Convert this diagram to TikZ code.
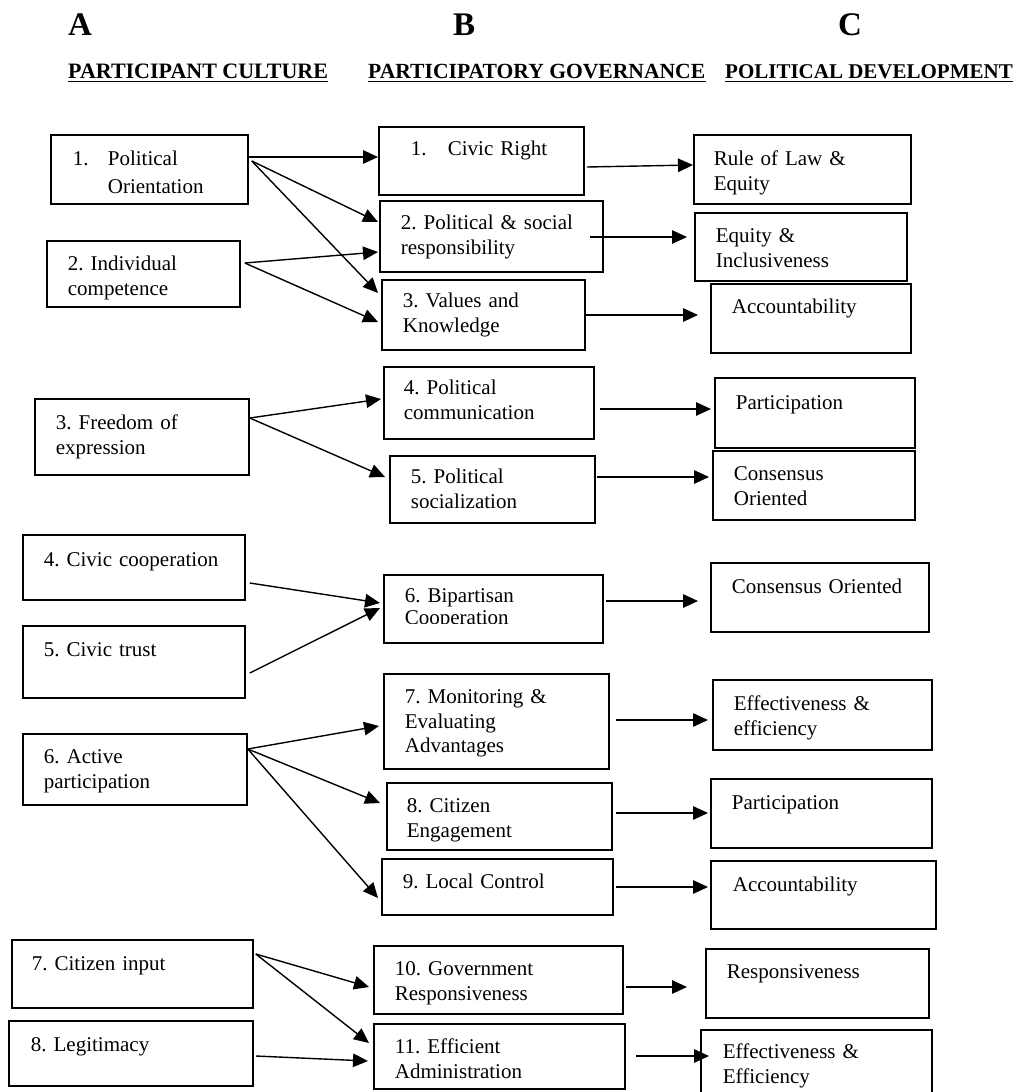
\documentclass[tikz,border=0pt]{standalone}
\usepackage{fontspec}
\setmainfont{Liberation Serif}
\usetikzlibrary{arrows.meta}
\frenchspacing

\begin{document}
\begin{tikzpicture}[x=1pt, y=-1pt,
  box/.style={draw, line width=1.8pt, anchor=north west, align=left, inner ysep=0pt,
    font=\fontsize{21}{24.5}\selectfont},
  hdr/.style={anchor=base west, inner sep=0pt, font=\bfseries\fontsize{33}{36}\selectfont},
  ttl/.style={anchor=base west, inner sep=0pt, font=\bfseries\fontsize{#1}{24}\selectfont},
  arr/.style={line width=1.4pt, -{Triangle[length=15pt, width=13.5pt]}}]
\useasboundingbox (0,0) rectangle (1018,1092);

% column headings
\node[hdr] (la) at (68,35) {A};
\node[hdr] (lb) at (453,35) {B};
\node[hdr] (lc) at (838,35) {C};
\node[ttl=22] (ta) at (68,78) {PARTICIPANT CULTURE};
\node[ttl=21.6] (tb) at (368,78) {PARTICIPATORY GOVERNANCE};
\node[ttl=21] (tc) at (725,78) {POLITICAL DEVELOPMENT};
\draw[line width=1.8pt] ([yshift=-3.5pt]ta.base west) -- ([yshift=-3.5pt]ta.base east);
\draw[line width=1.8pt] ([yshift=-3.5pt]tb.base west) -- ([yshift=-3.5pt]tb.base east);
\draw[line width=1.8pt] ([yshift=-3.5pt]tc.base west) -- ([yshift=-3.5pt]tc.base east);

% A: participant culture
\node[box, inner xsep=22pt, text width=153pt, text height=31pt, text depth=38pt] (a1) at (50,134) {\makebox[35pt][l]{1.}Political\\[3.5pt]\hspace*{35pt}Orientation};
\node[box, inner xsep=21pt, text width=151pt, text height=30pt, text depth=36pt] (a2) at (46,240) {2. Individual\\competence};
\node[box, inner xsep=21pt, text width=172pt, text height=31pt, text depth=45pt] (a3) at (34,398) {3. Freedom of\\expression};
\node[box, inner xsep=21pt, text width=180pt, text height=32pt, text depth=33pt] (a4) at (22,534) {4. Civic cooperation};
\node[box, inner xsep=21pt, text width=180pt, text height=31pt, text depth=41pt] (a5) at (22,625) {5. Civic trust};
\node[box, inner xsep=21pt, text width=182pt, text height=30pt, text depth=41pt] (a6) at (22,733) {6. Active\\participation};
\node[box, inner xsep=20pt, text width=201pt, text height=31pt, text depth=37pt] (a7) at (11,939) {7. Citizen input};
\node[box, inner xsep=22pt, text width=200pt, text height=31pt, text depth=34pt] (a8) at (8,1020) {8. Legitimacy};

% B: participatory governance
\node[box, inner xsep=32pt, text width=141pt, text height=29pt, text depth=39pt] (b1) at (378,126) {\makebox[37pt][l]{1.}Civic Right};
\node[box, inner xsep=21pt, text width=181pt, text height=29pt, text depth=42pt] (b2) at (379,200) {2. Political \& social\\responsibility};
\node[box, inner xsep=21pt, text width=161pt, text height=28pt, text depth=42pt] (b3) at (381,279) {3. Values and\\Knowledge};
\node[box, inner xsep=20pt, text width=170pt, text height=28pt, text depth=44pt] (b4) at (383,366) {4. Political\\communication};
\node[box, inner xsep=21pt, text width=163pt, text height=28pt, text depth=39pt] (b5) at (389,455) {5. Political\\socialization};
\node[box, inner xsep=21pt, text width=177pt, text height=28pt, text depth=40pt] (b6) at (383,574) {6. Bipartisan\\[-2.5pt]Cooperation};
\node[box, inner xsep=21pt, text width=183pt, text height=30pt, text depth=65pt] (b7) at (383,673) {7. Monitoring \&\\Evaluating\\Advantages};
\node[box, inner xsep=20pt, text width=185pt, text height=30pt, text depth=37pt] (b8) at (386,782) {8. Citizen\\Engagement};
\node[box, inner xsep=21pt, text width=189pt, text height=30pt, text depth=26pt] (b9) at (381,858) {9. Local Control};
\node[box, inner xsep=21pt, text width=207pt, text height=30pt, text depth=38pt] (b10) at (373,945) {10. Government\\Responsiveness};
\node[box, inner xsep=21pt, text width=209pt, text height=30pt, text depth=35pt] (b11) at (373,1023) {11. Efficient\\Administration};

% text cut off at the bottom of some boxes
\fill[white] ([shift={(1.5,-1.5)}]a2.south west) rectangle ([shift={(-1.5,-8)}]a2.south east);
\fill[white] ([shift={(1.5,-1.5)}]b6.south west) rectangle ([shift={(-1.5,-20)}]b6.south east);
\fill[white] ([shift={(1.5,-1.5)}]b8.south west) rectangle ([shift={(-1.5,-8)}]b8.south east);

% C: political development
\node[box, inner xsep=20pt, text width=177pt, text height=31pt, text depth=38pt] (c1) at (693,134) {Rule of Law \&\\Equity};
\node[box, inner xsep=21pt, text width=170pt, text height=30pt, text depth=38pt] (c2) at (694,212) {Equity \&\\Inclusiveness};
\node[box, inner xsep=21pt, text width=158pt, text height=30pt, text depth=39pt] (c3) at (710,283) {Accountability};
\node[box, inner xsep=21pt, text width=158pt, text height=32pt, text depth=38pt] (c4) at (714,377) {Participation};
\node[box, inner xsep=21pt, text width=160pt, text height=30pt, text depth=39pt] (c5) at (712,450) {Consensus\\Oriented};
\node[box, inner xsep=21pt, text width=176pt, text height=31pt, text depth=38pt] (c6) at (710,562) {Consensus Oriented};
\node[box, inner xsep=21pt, text width=177pt, text height=31pt, text depth=39pt] (c7) at (712,679) {Effectiveness \&\\efficiency};
\node[box, inner xsep=21pt, text width=179pt, text height=31pt, text depth=38pt] (c8) at (710,778) {Participation};
\node[box, inner xsep=22pt, text width=181pt, text height=31pt, text depth=37pt] (c9) at (710,860) {Accountability};
\node[box, inner xsep=21pt, text width=181pt, text height=30pt, text depth=39pt] (c10) at (705,948) {Responsiveness};
\node[box, inner xsep=22pt, text width=187pt, text height=29pt, text depth=46pt] (c11) at (700,1029) {Effectiveness \&\\Efficiency};

% A -> B
\draw[arr] ([shift={(0,23)}]a1.north east) -- ([shift={(0,31)}]b1.north west);
\draw[arr] ([shift={(3,27)}]a1.north east) -- ([shift={(-1,22)}]b2.north west);
\draw[arr] ([shift={(3,27)}]a1.north east) -- ([shift={(-3,14)}]b3.north west);
\draw[arr] ([shift={(4,23)}]a2.north east) -- ([shift={(-1,52)}]b2.north west);
\draw[arr] ([shift={(4,23)}]a2.north east) -- ([shift={(-3,43)}]b3.north west);
\draw[arr] ([shift={(0,20)}]a3.north east) -- ([shift={(-2,33)}]b4.north west);
\draw[arr] ([shift={(0,20)}]a3.north east) -- ([shift={(-4,22)}]b5.north west);
\draw[arr] ([shift={(4,49)}]a4.north east) -- ([shift={(-3,29)}]b6.north west);
\draw[arr] ([shift={(4,48)}]a5.north east) -- ([shift={(-3,34)}]b6.north west);
\draw[arr] ([shift={(0,16)}]a6.north east) -- ([shift={(-4,53)}]b7.north west);
\draw[arr] ([shift={(0,16)}]a6.north east) -- ([shift={(-6,21)}]b8.north west);
\draw[arr] ([shift={(0,16)}]a6.north east) -- ([shift={(-3,40)}]b9.north west);
\draw[arr] ([shift={(2,15)}]a7.north east) -- ([shift={(-4,42)}]b10.north west);
\draw[arr] ([shift={(2,15)}]a7.north east) -- ([shift={(-4,20)}]b11.north west);
\draw[arr] ([shift={(2,36)}]a8.north east) -- ([shift={(-5,38)}]b11.north west);

% B -> C
\draw[arr] ([shift={(2,41)}]b1.north east) -- ([shift={(0,31)}]c1.north west);
\draw[arr] ([shift={(-14,37)}]b2.north east) -- ([shift={(-7,25)}]c2.north west);
\draw[arr] ([shift={(0,36)}]b3.north east) -- ([shift={(-12,32)}]c3.north west);
\draw[arr] ([shift={(5,43)}]b4.north east) -- ([shift={(-3,32)}]c4.north west);
\draw[arr] ([shift={(1,22)}]b5.north east) -- ([shift={(-3,27)}]c5.north west);
\draw[arr] ([shift={(2,27)}]b6.north east) -- ([shift={(-12,39)}]c6.north west);
\draw[arr] ([shift={(6,47)}]b7.north east) -- ([shift={(-4,41)}]c7.north west);
\draw[arr] ([shift={(3,31)}]b8.north east) -- ([shift={(-2,35)}]c8.north west);
\draw[arr] ([shift={(2,29)}]b9.north east) -- ([shift={(-2,27)}]c9.north west);
\draw[arr] ([shift={(2,42)}]b10.north east) -- ([shift={(-18,39)}]c10.north west);
\draw[arr] ([shift={(10,33)}]b11.north east) -- ([shift={(9,27)}]c11.north west);
\end{tikzpicture}
\end{document}
